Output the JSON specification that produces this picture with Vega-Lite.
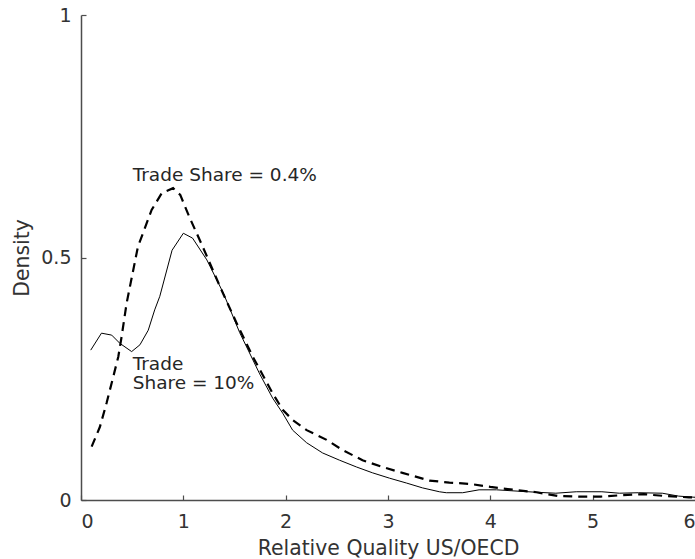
{
  "$schema": "https://vega.github.io/schema/vega-lite/v6.json",
  "width": 614,
  "height": 485,
  "autosize": "none",
  "padding": {"left": 81, "top": 15, "right": 0, "bottom": 59},
  "background": "white",
  "config": {
    "view": {"stroke": null},
    "font": "DejaVu Sans",
    "axis": {
      "grid": false,
      "domainColor": "#4d4d4d",
      "tickColor": "#4d4d4d",
      "labelColor": "#333333",
      "titleColor": "#333333",
      "labelFont": "DejaVu Sans",
      "titleFont": "DejaVu Sans",
      "labelFontSize": 19,
      "titleFontSize": 20.4,
      "titleFontWeight": "normal",
      "tickSize": -5,
      "tickWidth": 1.2,
      "domainWidth": 1.5
    }
  },
  "datasets": {
    "curves": [
      {"x": 0.095, "y": 0.309, "series": "10%"},
      {"x": 0.2, "y": 0.344, "series": "10%"},
      {"x": 0.3, "y": 0.340, "series": "10%"},
      {"x": 0.38, "y": 0.323, "series": "10%"},
      {"x": 0.495, "y": 0.306, "series": "10%"},
      {"x": 0.576, "y": 0.32, "series": "10%"},
      {"x": 0.657, "y": 0.35, "series": "10%"},
      {"x": 0.72, "y": 0.392, "series": "10%"},
      {"x": 0.77, "y": 0.42, "series": "10%"},
      {"x": 0.89, "y": 0.515, "series": "10%"},
      {"x": 1.0, "y": 0.55, "series": "10%"},
      {"x": 1.09, "y": 0.54, "series": "10%"},
      {"x": 1.23, "y": 0.495, "series": "10%"},
      {"x": 1.39, "y": 0.427, "series": "10%"},
      {"x": 1.551, "y": 0.345, "series": "10%"},
      {"x": 1.746, "y": 0.26, "series": "10%"},
      {"x": 1.873, "y": 0.21, "series": "10%"},
      {"x": 1.971, "y": 0.179, "series": "10%"},
      {"x": 2.068, "y": 0.144, "series": "10%"},
      {"x": 2.205, "y": 0.118, "series": "10%"},
      {"x": 2.361, "y": 0.097, "series": "10%"},
      {"x": 2.527, "y": 0.082, "series": "10%"},
      {"x": 2.693, "y": 0.068, "series": "10%"},
      {"x": 2.849, "y": 0.056, "series": "10%"},
      {"x": 3.015, "y": 0.045, "series": "10%"},
      {"x": 3.18, "y": 0.035, "series": "10%"},
      {"x": 3.337, "y": 0.025, "series": "10%"},
      {"x": 3.502, "y": 0.017, "series": "10%"},
      {"x": 3.57, "y": 0.015, "series": "10%"},
      {"x": 3.73, "y": 0.015, "series": "10%"},
      {"x": 3.89, "y": 0.021, "series": "10%"},
      {"x": 4.06, "y": 0.021, "series": "10%"},
      {"x": 4.21, "y": 0.019, "series": "10%"},
      {"x": 4.45, "y": 0.016, "series": "10%"},
      {"x": 4.64, "y": 0.014, "series": "10%"},
      {"x": 4.84, "y": 0.017, "series": "10%"},
      {"x": 5.09, "y": 0.017, "series": "10%"},
      {"x": 5.26, "y": 0.014, "series": "10%"},
      {"x": 5.45, "y": 0.015, "series": "10%"},
      {"x": 5.68, "y": 0.014, "series": "10%"},
      {"x": 5.84, "y": 0.008, "series": "10%"},
      {"x": 6.0, "y": 0.0056, "series": "10%"},
      {"x": 0.104, "y": 0.11, "series": "0.4%"},
      {"x": 0.185, "y": 0.151, "series": "0.4%"},
      {"x": 0.25, "y": 0.2, "series": "0.4%"},
      {"x": 0.315, "y": 0.254, "series": "0.4%"},
      {"x": 0.364, "y": 0.295, "series": "0.4%"},
      {"x": 0.397, "y": 0.337, "series": "0.4%"},
      {"x": 0.446, "y": 0.406, "series": "0.4%"},
      {"x": 0.556, "y": 0.522, "series": "0.4%"},
      {"x": 0.69, "y": 0.598, "series": "0.4%"},
      {"x": 0.79, "y": 0.633, "series": "0.4%"},
      {"x": 0.9, "y": 0.643, "series": "0.4%"},
      {"x": 0.97, "y": 0.629, "series": "0.4%"},
      {"x": 1.06, "y": 0.583, "series": "0.4%"},
      {"x": 1.19, "y": 0.522, "series": "0.4%"},
      {"x": 1.36, "y": 0.439, "series": "0.4%"},
      {"x": 1.52, "y": 0.365, "series": "0.4%"},
      {"x": 1.68, "y": 0.295, "series": "0.4%"},
      {"x": 1.87, "y": 0.221, "series": "0.4%"},
      {"x": 1.971, "y": 0.186, "series": "0.4%"},
      {"x": 2.068, "y": 0.165, "series": "0.4%"},
      {"x": 2.205, "y": 0.144, "series": "0.4%"},
      {"x": 2.4, "y": 0.124, "series": "0.4%"},
      {"x": 2.556, "y": 0.103, "series": "0.4%"},
      {"x": 2.751, "y": 0.082, "series": "0.4%"},
      {"x": 2.946, "y": 0.068, "series": "0.4%"},
      {"x": 3.141, "y": 0.056, "series": "0.4%"},
      {"x": 3.405, "y": 0.04, "series": "0.4%"},
      {"x": 3.6, "y": 0.036, "series": "0.4%"},
      {"x": 3.81, "y": 0.033, "series": "0.4%"},
      {"x": 4.0, "y": 0.027, "series": "0.4%"},
      {"x": 4.23, "y": 0.021, "series": "0.4%"},
      {"x": 4.45, "y": 0.016, "series": "0.4%"},
      {"x": 4.67, "y": 0.008, "series": "0.4%"},
      {"x": 4.87, "y": 0.007, "series": "0.4%"},
      {"x": 5.08, "y": 0.007, "series": "0.4%"},
      {"x": 5.29, "y": 0.01, "series": "0.4%"},
      {"x": 5.5, "y": 0.012, "series": "0.4%"},
      {"x": 5.72, "y": 0.008, "series": "0.4%"},
      {"x": 5.94, "y": 0.0056, "series": "0.4%"},
      {"x": 6.0, "y": 0.005, "series": "0.4%"}
    ],
    "labels": [
      {"x": 0.505, "y": 0.658, "label": "Trade Share = 0.4%"},
      {"x": 0.505, "y": 0.268, "label": "Trade\nShare = 10%"}
    ]
  },
  "layer": [
    {
      "data": {"name": "curves"},
      "transform": [{"filter": "datum.series === '10%'"}],
      "mark": {"type": "line", "color": "black", "strokeWidth": 1, "clip": true},
      "encoding": {
        "x": {"field": "x", "type": "quantitative", "scale": {"domain": [0, 6], "nice": false},
          "axis": {"values": [0, 1, 2, 3, 4, 5, 6], "title": "Relative Quality US/OECD", "labelPadding": 17, "titlePadding": 7, "format": "~g"}},
        "y": {"field": "y", "type": "quantitative", "scale": {"domain": [0, 1], "nice": false},
          "axis": {"values": [0, 0.5, 1], "title": "Density", "labelPadding": 15, "titlePadding": 8, "format": "~g"}}
      }
    },
    {
      "data": {"name": "curves"},
      "transform": [{"filter": "datum.series === '0.4%'"}],
      "mark": {"type": "line", "color": "black", "strokeWidth": 2.2, "strokeDash": [9, 6], "clip": true},
      "encoding": {
        "x": {"field": "x", "type": "quantitative"},
        "y": {"field": "y", "type": "quantitative"}
      }
    },
    {
      "data": {"name": "labels"},
      "mark": {"type": "text", "align": "left", "baseline": "alphabetic", "fontSize": 18.5, "lineHeight": 19.2, "lineBreak": "\n", "color": "#262626", "font": "DejaVu Sans"},
      "encoding": {
        "x": {"field": "x", "type": "quantitative"},
        "y": {"field": "y", "type": "quantitative"},
        "text": {"field": "label"}
      }
    }
  ]
}
